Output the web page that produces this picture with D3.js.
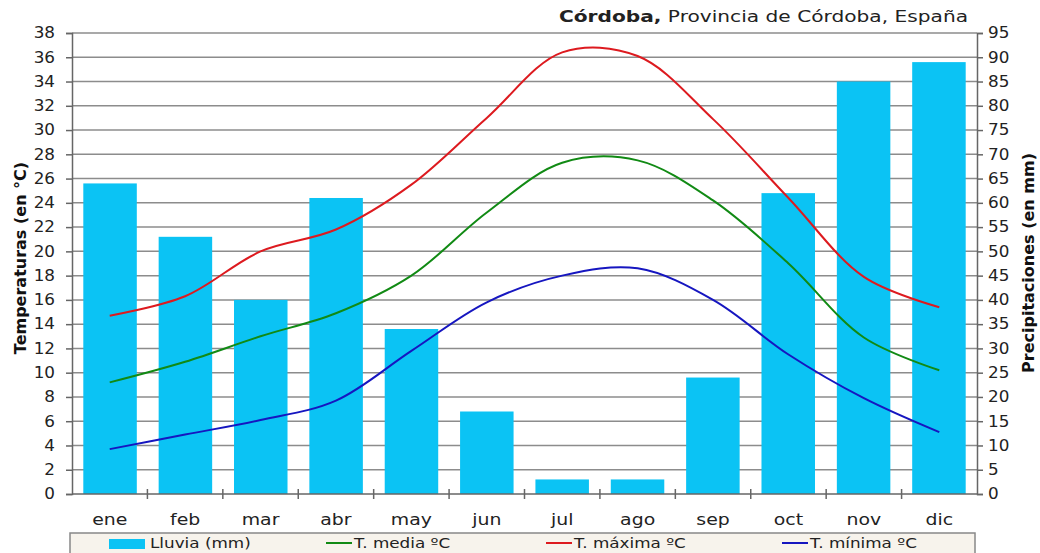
<!DOCTYPE html>
<html>
<head>
<meta charset="utf-8">
<script src="https://cdn.jsdelivr.net/npm/d3@7"></script>
<style>
  body { margin: 0; background: #fff; }
  text { font-family: "DejaVu Sans", Verdana, sans-serif; }
</style>
</head>
<body>
<div id="chart"></div>
<script>
var months = ["ene", "feb", "mar", "abr", "may", "jun", "jul", "ago", "sep", "oct", "nov", "dic"]
var lluvia = [64, 53, 40, 61, 34, 17, 3, 3, 24, 62, 85, 89]
var tMax = [14.7, 16.3, 20.0, 21.8, 25.5, 31.0, 36.4, 36.1, 30.9, 24.4, 17.9, 15.4]
var tMedia = [9.2, 10.9, 13.0, 14.9, 18.0, 23.2, 27.3, 27.5, 24.2, 19.0, 12.9, 10.2]
var tMin = [3.7, 4.9, 6.1, 7.7, 11.8, 15.8, 18.0, 18.6, 16.0, 11.5, 7.9, 5.1]
var tempTicks = d3.range(0, 39, 2)
var rainTicks = d3.range(0, 96, 5)

var width = 1040, height = 553
var mLeft = 72, mRight = 977, mTop = 33, mBottom = 494
var barColor = "#0bc3f4"

var svg = d3.select("#chart").append("svg")
            .attr("width", width)
            .attr("height", height)

// the picture is stretched sideways, so the text is too
function stretch(sel, s) {
  sel.each(function () {
    var t = d3.select(this)
    var tx = +t.attr("x") || 0
    var ty = +t.attr("y") || 0
    t.attr("x", 0).attr("y", 0)
     .attr("transform", "translate(" + tx + "," + ty + ") scale(" + s + ",1)")
  })
}

var x = d3.scaleBand().domain(months).range([mLeft, mRight]).paddingInner(0.29).paddingOuter(0.15)
var xb = d3.scaleBand().domain(months).range([mLeft, mRight])
var yT = d3.scaleLinear().domain([0, 38]).range([mBottom, mTop])
var yR = d3.scaleLinear().domain([0, 95]).range([mBottom, mTop])

// grid lines
svg.append("g").selectAll("line")
   .data(tempTicks.slice(1))
   .enter().append("line")
   .attr("x1", mLeft).attr("x2", mRight)
   .attr("y1", function (d) { return yT(d) }).attr("y2", function (d) { return yT(d) })
   .attr("stroke", "#8c8c8c").attr("stroke-width", 1.5)

// bars
svg.append("g").selectAll("rect")
   .data(lluvia)
   .enter().append("rect")
   .attr("x", function (d, i) { return x(months[i]) })
   .attr("y", function (d) { return yR(d) })
   .attr("width", x.bandwidth())
   .attr("height", function (d) { return mBottom - yR(d) })
   .attr("fill", barColor)

// axes
var axL = svg.append("g").attr("transform", "translate(" + mLeft + ",0)")
  .call(d3.axisLeft(yT).tickValues(tempTicks).tickSize(6).tickPadding(11))
var axR = svg.append("g").attr("transform", "translate(" + mRight + ",0)")
  .call(d3.axisRight(yR).tickValues(rainTicks).tickSize(6).tickPadding(5))
;[axL, axR].forEach(function (g) {
  g.select(".domain").attr("stroke", "#666").attr("stroke-width", 1.5)
  g.selectAll(".tick line").attr("stroke", "#666").attr("stroke-width", 1.5)
  g.selectAll(".tick text").attr("font-size", 15).attr("fill", "#222")
    .style("font-family", "DejaVu Sans, Verdana, sans-serif")
  stretch(g.selectAll(".tick text"), 1.12)
})

var axB = svg.append("g").attr("transform", "translate(0," + mBottom + ")")
axB.append("line").attr("x1", mLeft).attr("x2", mRight).attr("stroke", "#666").attr("stroke-width", 1.5)
axB.selectAll("line.sep")
   .data(months.slice(1))
   .enter().append("line")
   .attr("class", "sep")
   .attr("x1", function (d) { return xb(d) }).attr("x2", function (d) { return xb(d) })
   .attr("y1", -5).attr("y2", 5)
   .attr("stroke", "#666").attr("stroke-width", 1.5)
var mLabels = axB.selectAll("text")
   .data(months)
   .enter().append("text")
   .attr("x", function (d) { return xb(d) + xb.bandwidth() / 2 })
   .attr("y", 31)
   .attr("text-anchor", "middle")
   .attr("font-size", 16).attr("fill", "#222")
   .text(function (d) { return d })
stretch(mLabels, 1.18)

// lines
var line = function (vals) {
  return d3.line()
    .x(function (d, i) { return xb(months[i]) + xb.bandwidth() / 2 })
    .y(function (d) { return yT(d) })
    .curve(d3.curveCatmullRom.alpha(0.5))(vals)
}
var series = [[tMax, "#dd1a1f"], [tMedia, "#118a14"], [tMin, "#1616c0"]]
series.forEach(function (s) {
  svg.append("path").attr("d", line(s[0]))
     .attr("fill", "none").attr("stroke", s[1]).attr("stroke-width", 2)
})

// title
var title = svg.append("text").attr("x", 968).attr("y", 22).attr("text-anchor", "end")
  .attr("font-size", 16).attr("fill", "#222")
title.append("tspan").attr("font-weight", "bold").text("Córdoba,")
title.append("tspan").text(" Provincia de Córdoba, España")
stretch(title, 1.26)

// axis titles
svg.append("text").attr("transform", "translate(26,258) rotate(-90)")
   .attr("text-anchor", "middle").attr("font-size", 16).attr("font-weight", "bold").attr("fill", "#111")
   .text("Temperaturas (en °C)")
svg.append("text").attr("transform", "translate(1034,263) rotate(-90)")
   .attr("text-anchor", "middle").attr("font-size", 16).attr("font-weight", "bold").attr("fill", "#111")
   .text("Precipitaciones (en mm)")

// legend
var lg = svg.append("g")
lg.append("rect").attr("x", 70).attr("y", 533).attr("width", 905).attr("height", 30)
  .attr("fill", "#f7f3ec").attr("stroke", "#888").attr("stroke-width", 1.5)
lg.append("rect").attr("x", 109).attr("y", 539).attr("width", 36).attr("height", 10).attr("fill", barColor)
var legTexts = [lg.append("text").attr("x", 150).attr("y", 548).attr("font-size", 14).attr("fill", "#222").text("Lluvia (mm)")]
var legItems = [["T. media ºC", "#118a14", 326], ["T. máxima ºC", "#dd1a1f", 546], ["T. mínima ºC", "#1616c0", 782]]
legItems.forEach(function (it) {
  lg.append("line").attr("x1", it[2]).attr("x2", it[2] + 26).attr("y1", 543).attr("y2", 543)
    .attr("stroke", it[1]).attr("stroke-width", 2)
  legTexts.push(lg.append("text").attr("x", it[2] + 28).attr("y", 548).attr("font-size", 14).attr("fill", "#222").text(it[0]))
})
legTexts.forEach(function (t) { stretch(t, 1.2) })
</script>
</body>
</html>
